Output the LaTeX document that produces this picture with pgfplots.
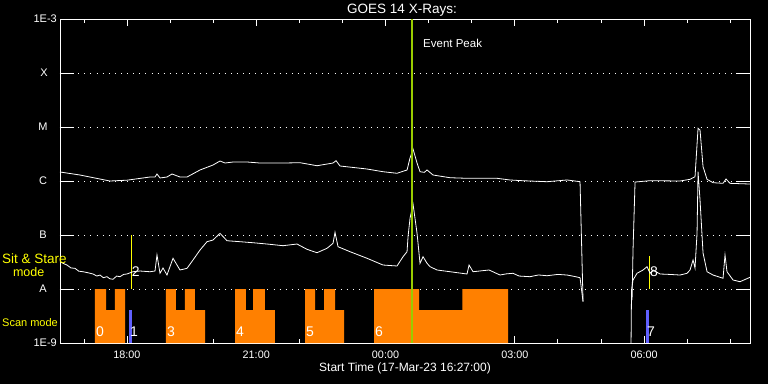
\documentclass[border=0pt]{standalone}
\usepackage{pgfplots}
\pgfplotsset{compat=1.18}
\usetikzlibrary{calc}
\usepackage{fontspec}
\setmainfont{Liberation Sans}
\definecolor{scanorange}{RGB}{255,128,0}
\definecolor{scanblue}{RGB}{96,96,255}
\definecolor{peakgreen}{RGB}{153,204,0}
\definecolor{ssyellow}{RGB}{255,255,0}
\begin{document}
\begin{tikzpicture}
\path[fill=black, use as bounding box] (-60pt,-41pt) rectangle (708pt,343pt);
\begin{axis}[
  at={(0,0)}, anchor=south west,
  scale only axis, width=690pt, height=324pt,
  xmin=16.445, xmax=32.46, ymin=-9, ymax=-3,
  clip=false,
  axis line style={white, line width=0.9pt},
  xtick={18,21,24,27,30},
  xticklabels={18:00,21:00,00:00,03:00,06:00},
  minor xtick={17,19,20,22,23,25,26,28,29,31,32},
  ytick={-8,-7,-6,-5,-4}, yticklabels={},
  tick style={white, line width=0.8pt},
  major tick length=7pt, minor tick length=4pt,
  xticklabel style={font=\fontsize{10.8}{12}\selectfont, text=white, anchor=center, yshift=-12pt},
  ymajorgrids,
  major grid style={white, line width=0.8pt, dash pattern=on 0.8pt off 5.3pt},
]
% scan mode blocks
\addplot[fill=scanorange, draw=none] coordinates {(17.257,-9) (17.257,-8) (17.513,-8) (17.513,-8.389) (17.721,-8.389) (17.721,-8) (17.954,-8) (17.954,-9)} -- cycle;
\addplot[fill=scanorange, draw=none] coordinates {(18.905,-9) (18.905,-8) (19.137,-8) (19.137,-8.389) (19.346,-8.389) (19.346,-8) (19.578,-8) (19.578,-8.389) (19.811,-8.389) (19.811,-9)} -- cycle;
\addplot[fill=scanorange, draw=none] coordinates {(20.507,-9) (20.507,-8) (20.762,-8) (20.762,-8.389) (20.925,-8.389) (20.925,-8) (21.203,-8) (21.203,-8.389) (21.435,-8.389) (21.435,-9)} -- cycle;
\addplot[fill=scanorange, draw=none] coordinates {(22.132,-9) (22.132,-8) (22.364,-8) (22.364,-8.389) (22.573,-8.389) (22.573,-8) (22.828,-8) (22.828,-8.389) (23.037,-8.389) (23.037,-9)} -- cycle;
\addplot[fill=scanorange, draw=none] coordinates {(23.733,-9) (23.733,-8) (24.778,-8) (24.778,-8.389) (25.783,-8.389) (25.783,-8) (26.844,-8) (26.844,-9)} -- cycle;
% scan blue bars
\addplot[fill=scanblue, draw=none] coordinates {(18.046,-9) (18.046,-8.389) (18.116,-8.389) (18.116,-9)} -- cycle;
\addplot[fill=scanblue, draw=none] coordinates {(30.047,-9) (30.047,-8.389) (30.110,-8.389) (30.110,-9)} -- cycle;
% sit and stare markers
\addplot[ssyellow, line width=0.9pt] coordinates {(18.109,-7) (18.109,-8)};
\addplot[ssyellow, line width=0.9pt] coordinates {(30.117,-7.389) (30.117,-8)};
% long channel
\addplot[white, line width=0.8pt] coordinates {
(16.445,-5.833) (16.909,-5.889) (17.373,-5.963) (17.605,-6.000) (18.000,-5.985) (18.534,-5.926)
(18.650,-5.926) (18.696,-5.870) (18.766,-5.944) (18.928,-5.926) (19.045,-5.870) (19.230,-5.926)
(19.393,-5.926) (19.695,-5.796) (19.996,-5.704) (20.159,-5.630) (20.275,-5.667) (20.461,-5.648)
(20.786,-5.648) (21.087,-5.667) (21.621,-5.667) (22.016,-5.661) (22.410,-5.717) (22.782,-5.667)
(22.852,-5.624) (22.944,-5.722) (23.571,-5.778) (23.942,-5.828) (24.267,-5.857) (24.500,-5.796)
(24.569,-5.574) (24.639,-5.407) (24.732,-5.667) (24.801,-5.828) (24.900,-5.840) (24.964,-5.796)
(25.103,-5.889) (25.498,-5.939) (25.892,-5.950) (26.589,-5.950) (26.890,-5.981) (27.169,-5.994)
(27.749,-6.013) (28.214,-5.981) (28.515,-6.013) (28.585,-8.235)
};
\addplot[white, line width=0.8pt] coordinates {
(29.722,-8.204) (29.745,-7.278) (29.792,-6.019) (30.140,-5.994) (30.836,-6.000) (31.068,-5.969)
(31.184,-5.920) (31.254,-5.024) (31.300,-5.056) (31.370,-5.735) (31.463,-5.969) (31.602,-6.031)
(31.834,-6.043) (31.903,-5.963) (31.996,-6.043) (32.460,-6.056)
};
% short channel
\addplot[white, line width=0.8pt] coordinates {
(16.445,-7.494) (16.530,-7.530) (16.607,-7.556) (16.700,-7.610) (16.793,-7.617) (16.880,-7.670)
(16.979,-7.680) (17.100,-7.700) (17.211,-7.722) (17.300,-7.760) (17.373,-7.741) (17.450,-7.790)
(17.536,-7.772) (17.600,-7.810) (17.675,-7.820) (17.760,-7.760) (17.838,-7.772) (17.920,-7.730)
(18.000,-7.722) (18.139,-7.680) (18.302,-7.667) (18.534,-7.680) (18.650,-7.667) (18.696,-7.370)
(18.766,-7.709) (18.836,-7.611) (18.928,-7.741) (19.068,-7.431) (19.230,-7.648) (19.393,-7.617)
(19.532,-7.463) (19.695,-7.278) (19.857,-7.124) (19.996,-7.093) (20.159,-6.969) (20.321,-7.106)
(20.623,-7.124) (20.925,-7.143) (21.250,-7.167) (21.621,-7.198) (21.946,-7.167) (22.178,-7.265)
(22.410,-7.328) (22.643,-7.246) (22.782,-7.154) (22.828,-6.950) (22.898,-7.217) (23.176,-7.309)
(23.571,-7.431) (23.942,-7.556) (24.267,-7.574) (24.407,-7.402) (24.500,-7.309) (24.523,-7.031)
(24.569,-6.691) (24.639,-6.426) (24.732,-6.969) (24.801,-7.524) (24.871,-7.402) (24.964,-7.524)
(25.034,-7.587) (25.196,-7.648) (25.498,-7.680) (25.892,-7.722) (25.939,-7.556) (26.032,-7.680)
(26.403,-7.648) (26.658,-7.741) (26.800,-7.720) (26.960,-7.709) (27.100,-7.760) (27.355,-7.772)
(27.550,-7.740) (27.749,-7.754) (28.000,-7.730) (28.214,-7.741) (28.400,-7.770) (28.515,-7.791)
(28.585,-8.235)
};
\addplot[white, line width=0.8pt] coordinates {
(29.699,-9.000) (29.710,-8.019) (29.745,-7.833) (29.838,-7.709) (29.978,-7.648) (30.070,-7.587)
(30.140,-7.709) (30.210,-7.648) (30.372,-7.722) (30.600,-7.730) (30.836,-7.741) (30.999,-7.709)
(31.068,-7.648) (31.138,-7.463) (31.184,-7.611) (31.231,-6.963) (31.254,-5.828) (31.300,-6.352)
(31.370,-7.333) (31.463,-7.680) (31.602,-7.741) (31.834,-7.802) (31.880,-7.370) (31.926,-7.680)
(32.066,-7.833) (32.228,-7.865) (32.460,-7.783)
};
% event peak
\addplot[peakgreen, line width=2pt] coordinates {(24.604,-3) (24.604,-9)};
% y ticks (long)
\pgfplotsinvokeforeach{-8,-7,-6,-5,-4}{
  \draw[white, line width=0.8pt] (axis cs:16.445,#1) -- (axis cs:16.770,#1);
  \draw[white, line width=0.8pt] (axis cs:32.46,#1) -- (axis cs:32.135,#1);
}
% labels
\node[white, anchor=east, inner sep=0pt, font=\fontsize{11}{12}\selectfont] at (axis cs:16.375,-3) {1E-3};
\node[white, anchor=east, inner sep=0pt, font=\fontsize{11}{12}\selectfont] at (axis cs:16.375,-9) {1E-9};
\node[white, inner sep=0pt, font=\fontsize{11}{12}\selectfont] at (axis cs:16.073,-4) {X};
\node[white, inner sep=0pt, font=\fontsize{11}{12}\selectfont] at (axis cs:16.050,-5) {M};
\node[white, inner sep=0pt, font=\fontsize{11}{12}\selectfont] at (axis cs:16.050,-6) {C};
\node[white, inner sep=0pt, font=\fontsize{11}{12}\selectfont] at (axis cs:16.050,-7) {B};
\node[white, inner sep=0pt, font=\fontsize{11}{12}\selectfont] at (axis cs:16.050,-8) {A};
\node[ssyellow, anchor=west, inner sep=0pt, font=\fontsize{13.5}{15}\selectfont] at (axis cs:15.098,-7.444) {Sit \& Stare};
\node[ssyellow, anchor=west, inner sep=0pt, font=\fontsize{12.5}{14}\selectfont] at (axis cs:15.350,-7.685) {mode};
\node[ssyellow, anchor=west, inner sep=0pt, font=\fontsize{11}{13}\selectfont] at (axis cs:15.098,-8.630) {Scan mode};
\node[white, inner sep=0pt, font=\fontsize{13.5}{16}\selectfont] at ($(rel axis cs:0.5,1)+(-3pt,9pt)$) {GOES 14 X-Rays:};
\node[white, anchor=west, inner sep=0pt, font=\fontsize{11.5}{13}\selectfont] at (axis cs:24.871,-3.444) {Event Peak};
\node[white, inner sep=0pt, font=\fontsize{12}{14}\selectfont] at ($(rel axis cs:0.5,0)+(0pt,-25pt)$) {Start Time (17-Mar-23 16:27:00)};
% scan / stare numbers
\node[white, inner sep=0pt, font=\fontsize{14}{16}\selectfont] at (axis cs:17.373,-8.796) {0};
\node[white, inner sep=0pt, font=\fontsize{14}{16}\selectfont] at (axis cs:18.162,-8.796) {1};
\node[white, inner sep=0pt, font=\fontsize{14}{16}\selectfont] at (axis cs:18.202,-7.685) {2};
\node[white, inner sep=0pt, font=\fontsize{14}{16}\selectfont] at (axis cs:19.021,-8.796) {3};
\node[white, inner sep=0pt, font=\fontsize{14}{16}\selectfont] at (axis cs:20.623,-8.796) {4};
\node[white, inner sep=0pt, font=\fontsize{14}{16}\selectfont] at (axis cs:22.248,-8.796) {5};
\node[white, inner sep=0pt, font=\fontsize{14}{16}\selectfont] at (axis cs:23.850,-8.796) {6};
\node[white, inner sep=0pt, font=\fontsize{14}{16}\selectfont] at (axis cs:30.163,-8.796) {7};
\node[white, inner sep=0pt, font=\fontsize{14}{16}\selectfont] at (axis cs:30.233,-7.685) {8};
\end{axis}
\end{tikzpicture}
\end{document}
